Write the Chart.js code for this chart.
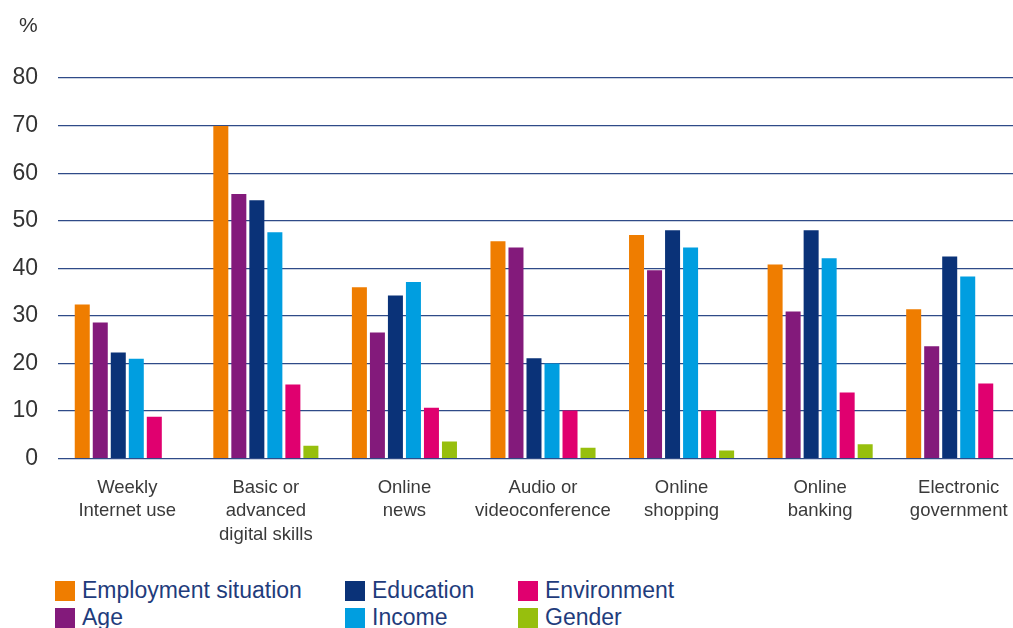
<!DOCTYPE html>
<html>
<head>
<meta charset="utf-8">
<script src="https://cdn.jsdelivr.net/npm/chart.js@4/dist/chart.umd.min.js"></script>
<style>
  html, body { margin: 0; padding: 0; background: #fff; overflow: hidden; width: 1013px; height: 628px; }
  #wrap { position: relative; width: 1013px; height: 628px; overflow: hidden; }
  #chartBox { position: absolute; left: 0; top: 0; width: 1028px; height: 564px; }
  #pct { position: absolute; left: 19px; top: 13px; font: 21px 'Liberation Sans', Arial, sans-serif; color: #333; }
  #legend { position: absolute; left: 55px; top: 577px; font: 23px 'Liberation Sans', Arial, sans-serif; color: #1f3c7c; }
  .item { position: absolute; white-space: nowrap; line-height: 26px; }
  .item i { display: inline-block; width: 20px; height: 20px; vertical-align: -3px; margin-right: 7px; }
</style>
</head>
<body>
<div id="wrap">
  <div id="chartBox"><canvas id="chart"></canvas></div>
  <div id="pct">%</div>
  <div id="legend"></div>
</div>
<script>
(function () {
    const categories = [
        ['Weekly', 'Internet use'],
        ['Basic or', 'advanced', 'digital skills'],
        ['Online', 'news'],
        ['Audio or', 'videoconference'],
        ['Online', 'shopping'],
        ['Online', 'banking'],
        ['Electronic', 'government'],
    ];

    const employment  = [32.4, 69.9, 36.0, 45.7, 47.0, 40.8, 31.4];
    const age         = [28.6, 55.6, 26.5, 44.4, 39.6, 30.9, 23.6];
    const education   = [22.3, 54.3, 34.3, 21.1, 48.0, 48.0, 42.5];
    const income      = [21.0, 47.6, 37.1, 20.0, 44.4, 42.1, 38.3];
    const environment = [8.8, 15.6, 10.7, 10.1, 10.1, 13.9, 15.8];
    const gender      = [null, 2.7, 3.6, 2.3, 1.7, 3.0, null];

    const yTicks = [0, 10, 20, 30, 40, 50, 60, 70, 80];

    const SERIES = [
        { label: 'Employment situation', data: employment,  color: '#ef7d00' },
        { label: 'Age',                  data: age,         color: '#831a7b' },
        { label: 'Education',            data: education,   color: '#0a3278' },
        { label: 'Income',               data: income,      color: '#009ee0' },
        { label: 'Environment',          data: environment, color: '#e0006f' },
        { label: 'Gender',               data: gender,      color: '#97bf0d' },
    ];

    const font = "'Liberation Sans', Arial, sans-serif";

    new Chart(document.getElementById('chart').getContext('2d'), {
        type: 'bar',
        data: {
            labels: categories,
            datasets: SERIES.map(s => ({
                label: s.label,
                data: s.data,
                backgroundColor: s.color,
                borderWidth: 0,
                categoryPercentage: 0.78,
                barPercentage: 0.833,
            })),
        },
        options: {
            responsive: true,
            maintainAspectRatio: false,
            animation: false,
            layout: { padding: { top: 78, right: 0, left: 0, bottom: 0 } },
            plugins: {
                legend: { display: false },
                tooltip: { enabled: false },
            },
            scales: {
                x: {
                    grid: { display: false, drawTicks: false },
                    border: { display: false },
                    ticks: {
                        color: '#3a3a3a',
                        font: { family: font, size: 18.5, lineHeight: 1.25 },
                        padding: 18,
                        maxRotation: 0,
                        autoSkip: false,
                    },
                },
                y: {
                    min: 0,
                    max: 80,
                    afterFit: s => { s.width = 58; },
                    afterBuildTicks: s => { s.ticks = yTicks.map(v => ({ value: v })); },
                    grid: { color: '#2f4b88', lineWidth: 1.3, drawTicks: false },
                    border: { display: false },
                    ticks: {
                        color: '#333',
                        font: { family: font, size: 23 },
                        padding: 20,
                    },
                },
            },
        },
    });

    // legend laid out in columns, like the original
    const legendEl = document.getElementById('legend');
    const cols = [0, 290, 463];
    SERIES.forEach((s, i) => {
        const el = document.createElement('div');
        el.className = 'item';
        el.style.left = cols[Math.floor(i / 2)] + 'px';
        el.style.top = (i % 2) * 27 + 'px';
        el.innerHTML = '<i style="background:' + s.color + '"></i>';
        el.appendChild(document.createTextNode(s.label));
        legendEl.appendChild(el);
    });
})();
</script>
</body>
</html>
